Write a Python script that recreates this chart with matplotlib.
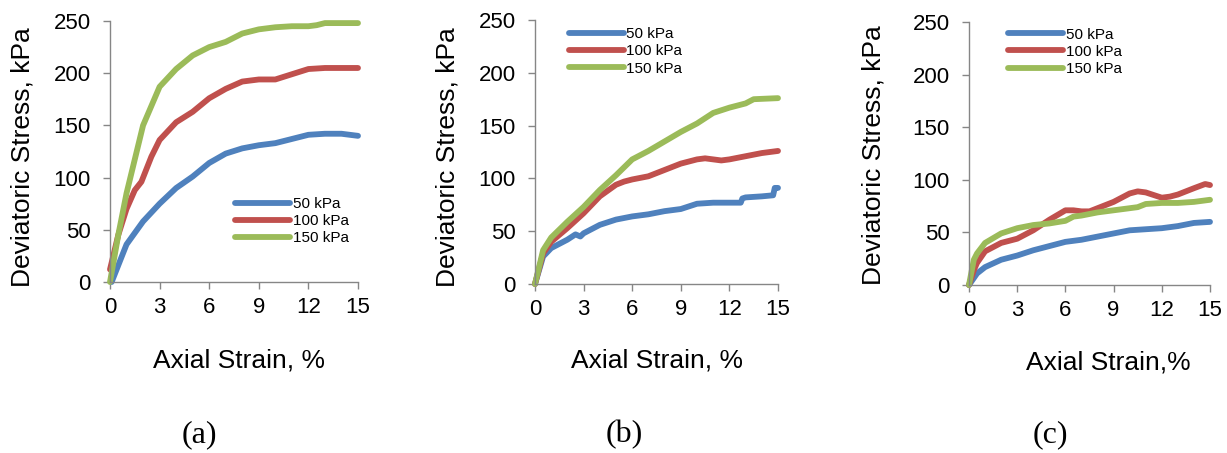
import matplotlib
matplotlib.use("Agg")
import matplotlib.pyplot as plt

plt.rcParams['font.family'] = ['Liberation Sans', 'DejaVu Sans']

series_labels = ["50 kPa", "100 kPa", "150 kPa"]
colors = ["#4F81BD", "#C0504D", "#9BBB59"]

# Panel (a)
a_x_50 = [0.1, 1, 2, 3, 4, 5, 6, 7, 8, 9, 10, 11, 12, 13, 14, 15]
a_y_50 = [0, 36, 58, 75, 90, 101, 114, 123, 128, 131, 133, 137, 141, 142, 142, 140]
a_x_100 = [0, 0.5, 1, 1.5, 1.9, 2.1, 2.5, 3, 4, 5, 6, 7, 8, 9, 10, 11, 12, 13, 14, 15]
a_y_100 = [12, 45, 70, 88, 96, 104, 120, 136, 153, 163, 176, 185, 192, 194, 194, 199, 204, 205, 205, 205]
a_x_150 = [0, 0.5, 1, 2, 3, 4, 5, 6, 7, 8, 9, 10, 11, 12, 12.5, 13, 14, 15]
a_y_150 = [0, 45, 85, 150, 187, 204, 217, 225, 230, 238, 242, 244, 245, 245, 246, 248, 248, 248]

# Panel (b)
b_x_50 = [0, 0.5, 1, 2, 2.5, 2.8, 3, 4, 5, 6, 7, 8, 9, 10, 11, 12, 12.7, 12.8, 13, 14, 14.7, 14.8, 15]
b_y_50 = [0, 26, 34, 42, 47, 45, 48, 56, 61, 64, 66, 69, 71, 76, 77, 77, 77, 81, 82, 83, 84, 91, 91]
b_x_100 = [0, 0.5, 1, 2, 3, 4, 5, 5.5, 6, 7, 8, 9, 10, 10.5, 11, 11.5, 12, 13, 14, 15]
b_y_100 = [0, 29, 40, 53, 67, 83, 94, 97, 99, 102, 108, 114, 118, 119, 118, 117, 118, 121, 124, 126]
b_x_150 = [0, 0.5, 1, 2, 3, 4, 5, 6, 7, 8, 9, 10, 11, 12, 13, 13.5, 15]
b_y_150 = [0, 32, 44, 59, 73, 89, 103, 118, 126, 135, 144, 152, 162, 167, 171, 175, 176]

# Panel (c)
c_x_50 = [0, 0.5, 1, 2, 3, 4, 5, 6, 7, 8, 9, 10, 11, 12, 13, 14, 15]
c_y_50 = [0, 11, 17, 24, 28, 33, 37, 41, 43, 46, 49, 52, 53, 54, 56, 59, 60]
c_x_100 = [0, 0.3, 0.5, 1, 2, 3, 4, 5, 6, 6.5, 7, 7.5, 8, 9, 10, 10.5, 11, 12, 12.5, 13, 14, 14.7, 15]
c_y_100 = [0, 14, 21, 32, 40, 44, 52, 62, 71, 71, 70, 70, 73, 79, 87, 89, 88, 83, 84, 86, 92, 96, 95]
c_x_150 = [0, 0.3, 0.5, 1, 2, 3, 4, 5, 6, 6.5, 7, 8, 9, 10, 10.5, 11, 12, 13, 14, 15]
c_y_150 = [0, 24, 30, 40, 49, 54, 57, 58.5, 61, 65, 66, 69, 71, 73, 74, 77, 78, 78, 79, 81]

xticks = [0, 3, 6, 9, 12, 15]
yticks = [0, 50, 100, 150, 200, 250]
xlabels = ["Axial Strain, %", "Axial Strain, %", "Axial Strain,%"]
ylabel = "Deviatoric Stress, kPa"
panel_labels = ["(a)", "(b)", "(c)"]

panels = [
    [(a_x_50, a_y_50), (a_x_100, a_y_100), (a_x_150, a_y_150)],
    [(b_x_50, b_y_50), (b_x_100, b_y_100), (b_x_150, b_y_150)],
    [(c_x_50, c_y_50), (c_x_100, c_y_100), (c_x_150, c_y_150)],
]

W, H = 1227, 453
fig = plt.figure(figsize=(W / 100, H / 100), dpi=100)

# axes boxes in pixels: left, right, top(y=250), bottom(y=0)
boxes = [(110, 358, 21, 282), (535, 778, 20, 284), (969, 1210, 22, 285)]
legend_anchor = [(0.505, 0.325), (0.14, 0.972), (0.163, 0.978)]
ylabel_pos = [(-0.351, 0.479), (-0.362, 0.481), (-0.398, 0.494)]
xlabel_pos = [(0.52, -0.299), (0.504, -0.288), (0.577, -0.293)]
panel_pos = [(199, 435), (624, 435), (1050, 435)]
spine_col = "#868686"
lw = 4.2

for i, (l, r, t, b) in enumerate(boxes):
    ax = fig.add_axes([l / W, 1 - b / H, (r - l) / W, (b - t) / H])
    for j, (xs, ys) in enumerate(panels[i]):
        ax.plot(xs, ys, color=colors[j], lw=lw, label=series_labels[j],
                solid_capstyle='round', solid_joinstyle='round')
    ax.set_xlim(0, 15)
    ax.set_ylim(0, 250)
    ax.set_xticks(xticks)
    ax.set_yticks(yticks)
    for s in ['top', 'right']:
        ax.spines[s].set_visible(False)
    for s in ['left', 'bottom']:
        ax.spines[s].set_color(spine_col)
        ax.spines[s].set_linewidth(1.0)
    ax.tick_params(axis='both', direction='out', length=5, width=1.0,
                   color=spine_col, labelsize=16, labelcolor='black')
    ax.tick_params(axis='x', pad=6)
    ax.tick_params(axis='y', pad=9)
    ax.set_ylabel(ylabel, fontsize=19, va='center')
    ax.yaxis.set_label_coords(*ylabel_pos[i])
    ax.set_xlabel(xlabels[i], fontsize=19, va='center')
    ax.xaxis.set_label_coords(*xlabel_pos[i])
    for ln in ax.get_lines():
        ln.set_clip_on(False)
    leg = ax.legend(loc='upper left', bbox_to_anchor=legend_anchor[i], frameon=False,
                    fontsize=11, handlelength=3.6, handletextpad=0.15,
                    labelspacing=0.2, borderaxespad=0, borderpad=0)
    for h in leg.get_lines():
        h.set_linewidth(lw)
    fig.text(panel_pos[i][0] / W, 1 - panel_pos[i][1] / H, panel_labels[i],
             family=['Liberation Serif', 'DejaVu Serif'], fontsize=23,
             ha='center', va='center')

fig.savefig("out.png", dpi=100)
